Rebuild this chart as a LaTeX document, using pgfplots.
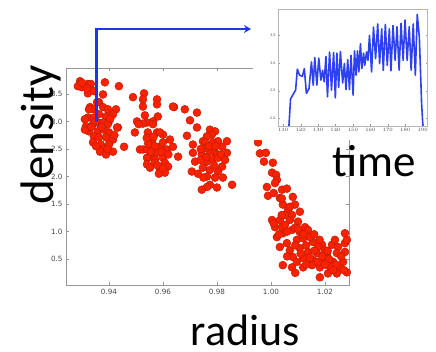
\documentclass[border=0pt]{standalone}
\usepackage{fontspec}
\usepackage{pgfplots}
\pgfplotsset{compat=1.18}
\usetikzlibrary{arrows.meta}
\setmainfont{Carlito}
\newfontfamily\dejavu{DejaVu Sans}
\definecolor{dotred}{RGB}{252,34,0}
\definecolor{dotedge}{RGB}{180,24,0}
\definecolor{lineblue}{RGB}{45,65,240}
\definecolor{arrowblue}{RGB}{30,55,230}
\definecolor{spine}{RGB}{150,150,150}
\definecolor{tlabel}{RGB}{70,70,70}
\begin{document}
\begin{tikzpicture}
\path[use as bounding box] (0pt,0pt) rectangle (436pt,352pt);
% ---------------- main scatter ----------------
\begin{axis}[
  at={(66pt,67pt)}, anchor=south west,
  width=283pt, height=217pt, scale only axis,
  xmin=0.9241, xmax=1.0289, ymin=0.03, ymax=3.97,
  xtick={0.94,0.96,0.98,1.00,1.02},
  xticklabels={0.94,0.96,0.98,1.00,1.02},
  ytick={0.5,1.0,1.5,2.0,2.5,3.0,3.5},
  yticklabels={0.5,1.0,1.5,2.0,2.5,3.0,3.5},
  tick align=inside, major tick length=3pt,
  tick style={spine, line width=0.5pt},
  axis line style={spine, line width=0.8pt},
  ticklabel style={font=\dejavu\fontsize{7.2}{8}\selectfont, text=tlabel},
  xticklabel style={yshift=-1pt},
  clip=true,
]
\addplot[only marks, mark=*, mark size=4.0pt,
  mark options={fill=dotred, draw=dotedge, line width=0.4pt}]
coordinates {
(0.9293,3.73)(0.9300,3.62)(0.9322,3.68)(0.9333,3.68)(0.9330,3.58)(0.9322,3.51)
(0.9285,3.64)(0.9319,3.60)(0.9385,3.71)(0.9437,3.64)(0.9378,3.49)(0.9330,3.26)
(0.9363,3.35)(0.9344,3.22)(0.9378,3.26)(0.9396,3.22)(0.9426,3.22)(0.9322,3.07)
(0.9344,3.07)(0.9363,3.13)(0.9389,3.09)(0.9415,3.13)(0.9400,3.00)(0.9315,2.91)
(0.9341,2.95)(0.9359,2.98)(0.9378,2.98)(0.9396,2.95)(0.9326,2.82)(0.9359,2.82)
(0.9381,2.85)(0.9400,2.80)(0.9433,2.89)(0.9344,2.73)(0.9363,2.71)(0.9389,2.71)
(0.9415,2.67)(0.9341,2.62)(0.9370,2.58)(0.9400,2.58)(0.9456,2.54)(0.9381,2.49)
(0.9415,2.45)(0.9367,2.45)(0.9389,2.40)(0.9311,3.04)(0.9311,2.85)(0.9430,2.89)
(0.9356,3.35)(0.9326,3.22)
(0.9350,3.00)(0.9335,2.90)(0.9372,2.90)(0.9352,2.55)(0.9395,2.50)(0.9420,2.75)
(0.9405,3.05)(0.9300,3.70)(0.9345,3.55)
(0.9489,3.44)(0.9530,3.51)(0.9526,3.40)(0.9526,3.27)(0.9578,3.40)(0.9578,3.31)
(0.9641,3.26)(0.9681,3.22)(0.9504,3.00)(0.9533,3.11)(0.9541,2.98)(0.9563,3.00)
(0.9581,3.09)(0.9526,2.96)(0.9563,2.95)(0.9496,2.80)(0.9544,2.80)(0.9578,2.80)
(0.9600,2.76)(0.9626,2.67)(0.9515,2.49)(0.9526,2.49)(0.9541,2.49)(0.9563,2.53)
(0.9589,2.54)(0.9615,2.49)(0.9637,2.54)(0.9656,2.36)(0.9552,2.36)(0.9578,2.43)
(0.9600,2.34)(0.9541,2.34)(0.9570,2.31)(0.9541,2.22)(0.9570,2.25)(0.9607,2.25)
(0.9552,2.16)(0.9589,2.12)(0.9619,2.18)(0.9607,2.07)(0.9585,2.05)(0.9637,3.27)
(0.9589,2.80)(0.9600,2.62)(0.9560,2.65)
(0.9545,2.60)(0.9570,2.55)(0.9595,2.45)(0.9620,2.40)(0.9555,2.45)(0.9580,2.20)
(0.9600,2.15)(0.9540,2.70)(0.9565,2.72)(0.9510,2.95)
(0.9726,3.16)(0.9700,3.02)(0.9726,2.89)(0.9689,2.74)(0.9774,2.85)(0.9793,2.82)
(0.9781,2.76)(0.9763,2.73)(0.9711,2.58)(0.9748,2.64)(0.9756,2.62)(0.9785,2.62)
(0.9804,2.64)(0.9837,2.64)(0.9819,2.54)(0.9837,2.43)(0.9711,2.43)(0.9744,2.40)
(0.9774,2.45)(0.9793,2.43)(0.9800,2.40)(0.9719,2.27)(0.9763,2.27)(0.9785,2.31)
(0.9804,2.34)(0.9707,2.09)(0.9748,2.16)(0.9774,2.12)(0.9804,2.09)(0.9819,2.18)
(0.9763,2.00)(0.9793,1.98)(0.9822,1.98)(0.9774,1.85)(0.9800,1.80)(0.9856,1.85)
(0.9763,1.81)(0.9744,1.76)(0.9750,1.98)(0.9760,2.52)
(0.9770,2.55)(0.9795,2.55)(0.9740,2.50)(0.9760,2.35)(0.9740,2.30)(0.9790,2.20)
(0.9730,2.05)(0.9815,2.40)(0.9830,2.30)
(0.9952,2.62)(0.9959,2.42)(0.9981,2.43)(0.9974,2.27)(1.0007,2.25)(1.0004,2.07)
(1.0019,2.03)(1.0022,1.94)(0.9985,1.81)(0.9989,1.65)(1.0041,1.76)(1.0059,1.78)
(1.0033,1.61)(1.0081,1.63)(1.0044,1.49)(1.0063,1.39)(1.0078,1.30)(1.0004,1.21)
(1.0033,1.21)(1.0070,1.21)(1.0100,1.18)(1.0126,1.08)(1.0137,1.03)(1.0022,0.90)
(1.0044,0.97)(1.0078,1.03)(1.0107,0.99)(1.0059,0.79)(1.0096,0.85)(1.0119,0.88)
(1.0156,0.81)(1.0189,0.76)(1.0226,0.76)(1.0248,0.72)(1.0274,0.79)(1.0033,0.72)
(1.0070,0.66)(1.0107,0.70)(1.0137,0.63)(1.0170,0.61)(1.0207,0.57)(1.0244,0.61)
(1.0274,0.63)(1.0081,0.54)(1.0119,0.52)(1.0156,0.48)(1.0193,0.45)(1.0230,0.45)
(1.0267,0.45)(1.0044,0.39)(1.0078,0.35)(1.0119,0.35)(1.0152,0.39)(1.0181,0.35)
(1.0219,0.35)(1.0256,0.34)(1.0181,0.17)(1.0211,0.24)(1.0244,0.24)(1.0281,0.26)
(1.0274,0.97)(1.0281,0.85)(1.0015,1.08)(1.0041,1.08)(1.0052,1.30)(1.0089,1.49)
(1.0107,1.36)(1.0052,1.12)(1.0089,1.07)(1.0144,0.90)(1.0174,0.72)(1.0200,0.66)
(1.0237,0.85)(1.0144,0.52)(1.0174,0.45)(1.0096,0.45)
(1.0060,1.00)(1.0100,1.05)(1.0120,0.95)(1.0130,0.75)(1.0160,0.65)(1.0190,0.55)
(1.0215,0.50)(1.0240,0.40)(1.0260,0.55)(1.0210,0.65)(1.0180,0.85)(1.0160,0.95)
(1.0110,0.60)(1.0090,0.75)(1.0060,0.55)(1.0030,0.95)(1.0010,1.15)(1.0270,0.30)
(1.0230,0.30)(1.0200,0.40)(1.0130,0.40)(1.0090,0.25)(1.0070,1.45)(1.0040,1.30)
(1.0015,1.88)(1.0040,1.60)(1.0010,1.70)
(1.0070,0.02)(1.0119,0.02)(1.0156,0.02)(1.0200,0.02)(1.0244,0.02)(1.0274,0.02)
};
\node[anchor=south west, inner sep=0pt, font=\dejavu\fontsize{5.5}{6}\selectfont, text=tlabel]
  at (rel axis cs:0,1) [yshift=1.5pt] {1e20};
\end{axis}
% white background of the inset picture
\fill[white] (253pt,212pt) rectangle (436pt,352pt);
% ---------------- inset time series ----------------
\begin{axis}[
  at={(278pt,226pt)}, anchor=south west,
  width=149pt, height=117pt, scale only axis,
  xmin=107, xmax=192.5, ymin=1.86, ymax=3.98,
  xtick={110,120,130,140,150,160,170,180,190},
  ytick={2.0,2.5,3.0,3.5},
  yticklabels={2.0,2.5,3.0,3.5},
  tick align=inside, major tick length=1.5pt,
  tick style={spine, line width=0.3pt},
  axis line style={spine!70, line width=0.5pt},
  ticklabel style={font=\dejavu\fontsize{3.4}{4}\selectfont, text=tlabel},
  xticklabel style={yshift=1pt},
  yticklabel style={xshift=1pt},
  axis background/.style={fill=white},
  clip=true,
]
\addplot[lineblue, line width=1.6pt, line join=round] coordinates {
(112.6,1.50)(114.2,2.35)(117.1,2.51)(118.1,2.89)(119.4,2.78)(121.0,2.76)(122.1,2.90)
(123.3,2.45)(124.8,2.54)(126.2,3.02)(127.2,2.60)(128.1,3.10)(129.3,2.60)(130.4,3.09)
(131.6,2.69)(132.6,2.87)(133.5,2.66)(134.5,3.12)(135.4,2.39)(136.6,3.20)(137.7,2.51)
(138.9,3.19)(139.9,2.37)(140.8,3.18)(141.8,2.56)(142.8,3.21)(144.1,2.64)(145.1,2.99)
(146.0,2.52)(147.0,3.06)(148.0,2.52)(148.9,3.14)(150.1,2.42)(150.9,3.22)(151.8,2.78)
(152.6,3.22)(153.4,2.84)(154.3,3.35)(155.1,2.90)(156.1,3.18)(156.8,2.96)(157.8,3.20)
(158.6,3.05)(159.5,3.50)(160.7,2.84)(161.8,3.65)(163.0,3.08)(164.2,3.71)(165.3,2.99)
(166.5,3.62)(167.4,2.87)(168.6,3.70)(169.7,2.96)(170.9,3.62)(171.8,2.86)(173.0,3.68)
(174.2,3.05)(175.3,3.66)(176.5,2.87)(177.6,3.72)(178.8,3.05)(179.9,3.78)(181.1,3.05)
(182.3,3.66)(183.4,2.87)(184.6,3.71)(185.8,2.78)(186.9,3.88)(188.1,3.47)(189.4,2.27)
(190.8,1.50)
};
\node[anchor=south west, inner sep=0pt, font=\dejavu\fontsize{3.4}{4}\selectfont, text=tlabel]
  at (rel axis cs:0,1) [yshift=0.8pt] {1e21};
\end{axis}
% ---------------- arrow ----------------
\draw[arrowblue, line width=2.3pt, -{Stealth[length=7pt,width=8pt]}]
  (96.5pt,230pt) -- (96.5pt,323pt) -- (251pt,323pt);
% ---------------- big labels ----------------
\node[rotate=90, anchor=base, inner sep=0pt, text depth=0pt, font=\fontsize{47}{50}\selectfont] at (53pt,217pt) {density};
\node[anchor=base, inner sep=0pt, text depth=0pt, font=\fontsize{45}{48}\selectfont] at (374.5pt,175pt) {time};
\node[anchor=base, inner sep=0pt, text depth=0pt, font=\fontsize{44}{48}\selectfont] at (245.5pt,6pt) {radius};
\end{tikzpicture}
\end{document}
